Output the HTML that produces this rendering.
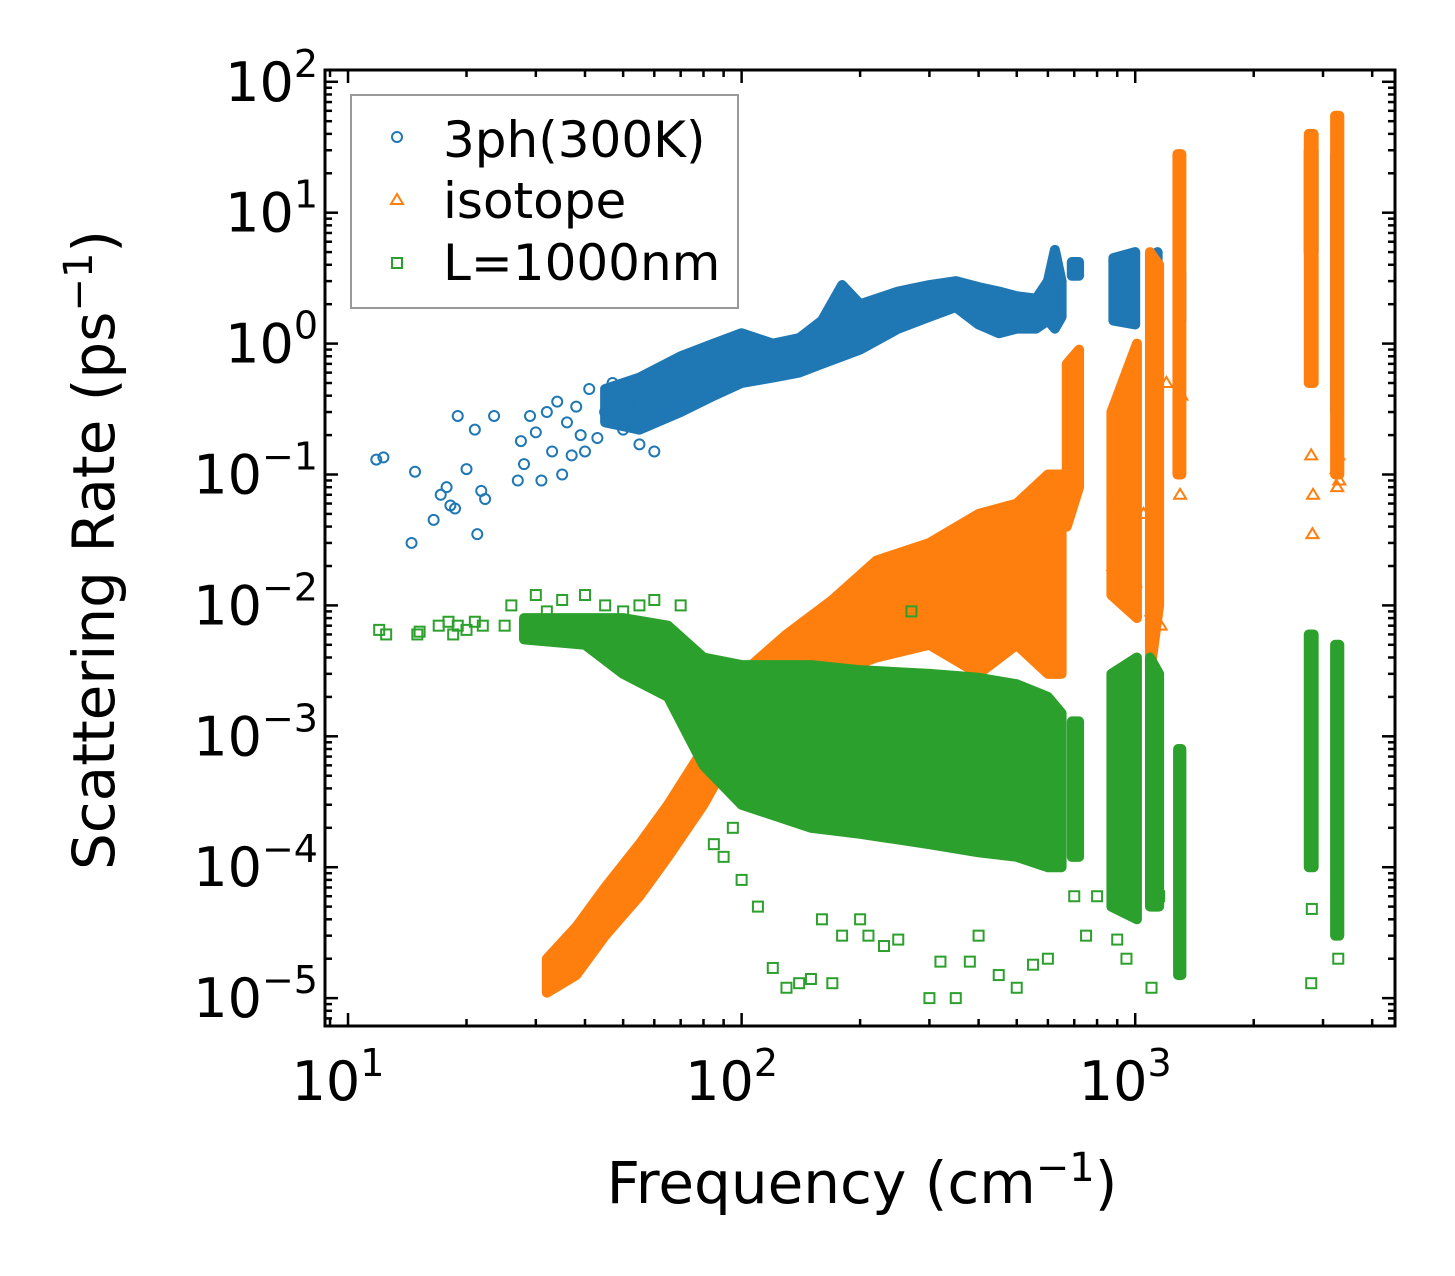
<!DOCTYPE html>
<html><head><meta charset="utf-8"><style>
body{margin:0;background:#fff}
svg{display:block;font-family:"DejaVu Sans","Liberation Sans",sans-serif}
</style></head><body>
<svg id="chart" width="1455" height="1276" viewBox="0 0 1455 1276">
<rect width="1455" height="1276" fill="#fff"/>
<g id="marks"></g>
<g id="axes"></g>
<text x="862" y="1203" font-size="58" text-anchor="middle">Frequency (cm<tspan dy="-22" font-size="40">−1</tspan><tspan dy="22">)</tspan></text>
<text transform="translate(114,550) rotate(-90)" font-size="58" text-anchor="middle">Scattering Rate (ps<tspan dy="-22" font-size="40">−1</tspan><tspan dy="22">)</tspan></text>
<g>
<rect x="351" y="95" width="387" height="213" fill="#fff" stroke="#999" stroke-width="2"/>
<circle cx="397" cy="137" r="5" fill="none" stroke="#1f77b4" stroke-width="2"/>
<text x="443" y="157" font-size="50">3ph(300K)</text>
<path d="M397,194 L403,204 L391,204 Z" fill="none" stroke="#ff7f0e" stroke-width="2"/>
<text x="443" y="218" font-size="50">isotope</text>
<rect x="392" y="258" width="10" height="10" fill="none" stroke="#2ca02c" stroke-width="2"/>
<text x="443" y="280" font-size="50">L=1000nm</text>
</g>
</svg>
<script>
// Axis ranges (log10)
const xDomain=[0.9415,3.66], yDomain=[-5.213,2.09];
const xTicks=[1,2,3], yTicks=[-5,-4,-3,-2,-1,0,1,2];
const xTickLabels=["10","10","10"], xTickExp=["1","2","3"];
const yTickExp=["−5","−4","−3","−2","−1","0","1","2"];
// Dense bands: [freq, low, high]
const blueBands=[
 [[45,0.25,0.45],[55,0.22,0.55],[70,0.3,0.8],[85,0.4,1.0],[100,0.5,1.2],[120,0.55,1.0],[140,0.6,1.1],[160,0.7,1.5],[180,0.8,2.8],[200,0.9,2.0],[250,1.3,2.5],[300,1.6,2.8],[350,1.9,3.0],[400,1.4,2.7],[450,1.2,2.5],[500,1.3,2.3],[560,1.3,2.2],[600,1.5,3.0],[625,1.3,5.2],[650,1.6,3.0]],
 [[690,3.3,4.2],[720,3.3,4.2]],
 [[880,1.5,4.5],[1000,1.4,5.0]],
 [[1110,1.6,4.8],[1140,1.5,5.0]],
 [[1285,1.5,3.5],[1310,1.5,3.5]],
 [[2760,5,30],[2840,5,30]],
 [[3220,0.3,28],[3290,0.3,28]]
];
const orangeBands=[
 [[32,1.1e-5,2e-5],[38,1.5e-5,3.5e-5],[45,3e-5,7e-5],[55,6e-5,1.5e-4],[65,1.2e-4,3e-4],[80,3e-4,8e-4],[100,1e-3,3e-3],[130,2e-3,6e-3],[170,3e-3,1.1e-2],[220,4e-3,2.2e-2],[300,5e-3,3e-2],[400,3e-3,5e-2],[500,5e-3,6e-2],[600,3e-3,1.0e-1],[650,3e-3,1.0e-1]],
 [[670,0.04,0.7],[720,0.08,0.9]],
 [[870,0.012,0.3],[1010,0.008,1.0]],
 [[1090,0.003,5],[1150,0.01,4]],
 [[1280,0.1,28],[1310,0.1,28]],
 [[2760,0.5,40],[2840,0.5,40]],
 [[3220,0.1,55],[3300,0.1,55]]
];
const greenBands=[
 [[28,5.5e-3,8e-3],[40,5e-3,8e-3],[50,3e-3,8e-3],[65,2e-3,7e-3],[80,6e-4,4e-3],[100,3e-4,3.5e-3],[150,2e-4,3.5e-3],[200,1.8e-4,3.2e-3],[300,1.5e-4,3e-3],[400,1.3e-4,2.8e-3],[500,1.2e-4,2.5e-3],[600,1e-4,2e-3],[650,1e-4,1.5e-3]],
 [[690,1.2e-4,1.3e-3],[720,1.2e-4,1.3e-3]],
 [[870,5e-5,3e-3],[1010,4e-5,4e-3]],
 [[1090,5e-5,4e-3],[1150,5e-5,3e-3]],
 [[1285,1.5e-5,8e-4],[1310,1.5e-5,8e-4]],
 [[2760,1e-4,6e-3],[2840,1e-4,6e-3]],
 [[3220,3e-5,5e-3],[3300,3e-5,5e-3]]
];
// Scattered points
const blueX=[11.8,12.3,14.5,14.8,16.5,17.2,17.8,18.2,18.7,19,20,21,21.3,21.8,22.3,23.5,27,27.5,28,29,30,31,32,33,34,35,36,37,38,39,40,41,43,45,47,50,52,55,58,60,62,65,68];
const blueY=[0.13,0.135,0.03,0.105,0.045,0.07,0.08,0.058,0.055,0.28,0.11,0.22,0.035,0.075,0.065,0.28,0.09,0.18,0.12,0.28,0.21,0.09,0.3,0.15,0.36,0.1,0.25,0.14,0.33,0.2,0.15,0.45,0.19,0.3,0.5,0.22,0.35,0.17,0.4,0.15,0.55,0.3,0.7];
const orangeX=[880,900,950,1000,1050,1100,1130,1160,1200,1300,1310,2800,2820,2830,3250,3260,3280,3300];
const orangeY=[0.02,0.06,0.02,0.015,0.05,0.009,0.1,0.007,0.5,0.07,0.4,0.14,0.035,0.07,0.11,0.08,0.14,0.09];
const greenX=[12,12.5,15,15.2,17,18,18.5,19,20,21,22,25,26,30,32,35,40,45,50,55,60,70,85,90,95,100,110,120,130,140,150,160,170,180,200,210,230,250,270,300,320,350,380,400,450,500,550,600,700,750,800,900,950,1100,1150,2800,2810,3280];
const greenY=[6.5e-3,6e-3,6e-3,6.3e-3,7e-3,7.5e-3,6e-3,7e-3,6.5e-3,7.5e-3,7e-3,7e-3,1e-2,1.2e-2,9e-3,1.1e-2,1.2e-2,1e-2,9e-3,1e-2,1.1e-2,1e-2,1.5e-4,1.2e-4,2e-4,8e-5,5e-5,1.7e-5,1.2e-5,1.3e-5,1.4e-5,4e-5,1.3e-5,3e-5,4e-5,3e-5,2.5e-5,2.8e-5,9e-3,1e-5,1.9e-5,1e-5,1.9e-5,3e-5,1.5e-5,1.2e-5,1.8e-5,2e-5,6e-5,3e-5,6e-5,2.8e-5,2e-5,1.2e-5,6e-5,1.3e-5,4.8e-5,2e-5];

const L=325,R=1395,T=70,B=1026;
const sx=f=>L+(Math.log10(f)-xDomain[0])/(xDomain[1]-xDomain[0])*(R-L);
const sy=v=>B-(Math.log10(v)-yDomain[0])/(yDomain[1]-yDomain[0])*(B-T);
const NS="http://www.w3.org/2000/svg";
const marks=document.getElementById('marks'), axes=document.getElementById('axes');
function mk(tag,attrs,parent){const e=document.createElementNS(NS,tag);for(const k in attrs)e.setAttribute(k,attrs[k]);parent.appendChild(e);return e;}

function drawBands(bands,color,name){
 bands.forEach(g=>{
  let top=g.map(p=>(sx(p[0]))+','+(sy(p[2])));
  let bot=g.slice().reverse().map(p=>(sx(p[0]))+','+(sy(p[1])));
  const el=mk('polygon',{points:top.concat(bot).join(' '),fill:color,stroke:color,'stroke-width':10,'stroke-linejoin':'round'},marks);
  
  
 });
}
function circ(xs,ys,c){xs.forEach((x,i)=>{const e=mk('circle',{cx:sx(x),cy:sy(ys[i]),r:5,fill:'none',stroke:c,'stroke-width':2},marks);
 
 });}
function tri(xs,ys,c){xs.forEach((x,i)=>{const X=sx(x),Y=sy(ys[i]);const e=mk('path',{d:`M${X},${Y-6} L${X+6},${Y+4} L${X-6},${Y+4} Z`,fill:'none',stroke:c,'stroke-width':2},marks);
 
 });}
function sq(xs,ys,c){xs.forEach((x,i)=>{const e=mk('rect',{x:sx(x)-5,y:sy(ys[i])-5,width:10,height:10,fill:'none',stroke:c,'stroke-width':2},marks);
 
 });}

drawBands(blueBands,'#1f77b4','3ph-dense-band'); circ(blueX,blueY,'#1f77b4');
drawBands(orangeBands,'#ff7f0e','isotope-dense-band'); tri(orangeX,orangeY,'#ff7f0e');
drawBands(greenBands,'#2ca02c','boundary-dense-band'); sq(greenX,greenY,'#2ca02c');

const fr=mk('rect',{x:L,y:T,width:R-L,height:B-T,fill:'none',stroke:'#000','stroke-width':3},axes);


function tick(x1,y1,x2,y2){mk('line',{x1,y1,x2,y2,stroke:'#000','stroke-width':2.5},axes);}
for(let d=0;d<=3;d++){for(let m=1;m<10;m++){const v=Math.pow(10,d)*m;const lv=Math.log10(v);if(lv<xDomain[0]||lv>xDomain[1])continue;const X=sx(v);const len=m==1?13:7;tick(X,B,X,B-len);tick(X,T,X,T+len);}}
xTicks.forEach((d,i)=>{const t=mk('text',{x:sx(Math.pow(10,d))-10,y:1100,'font-size':54,'text-anchor':'middle'},axes);t.textContent=xTickLabels[i];const s=mk('tspan',{dy:-24,'font-size':38},t);s.textContent=xTickExp[i];
 
 });
for(let d=-6;d<=2;d++){for(let m=1;m<10;m++){const v=Math.pow(10,d)*m;const lv=Math.log10(v);if(lv<yDomain[0]||lv>yDomain[1])continue;const Y=sy(v);const len=m==1?13:7;tick(L,Y,L+len,Y);tick(R,Y,R-len,Y);}}
yTicks.forEach((d,i)=>{const Y=sy(Math.pow(10,d));const t=mk('text',{x:318,y:Y+19,'font-size':54,'text-anchor':'end'},axes);t.textContent='10';const s=mk('tspan',{dy:-24,'font-size':38},t);s.textContent=yTickExp[i];
 
 });
</script>
</body></html>
